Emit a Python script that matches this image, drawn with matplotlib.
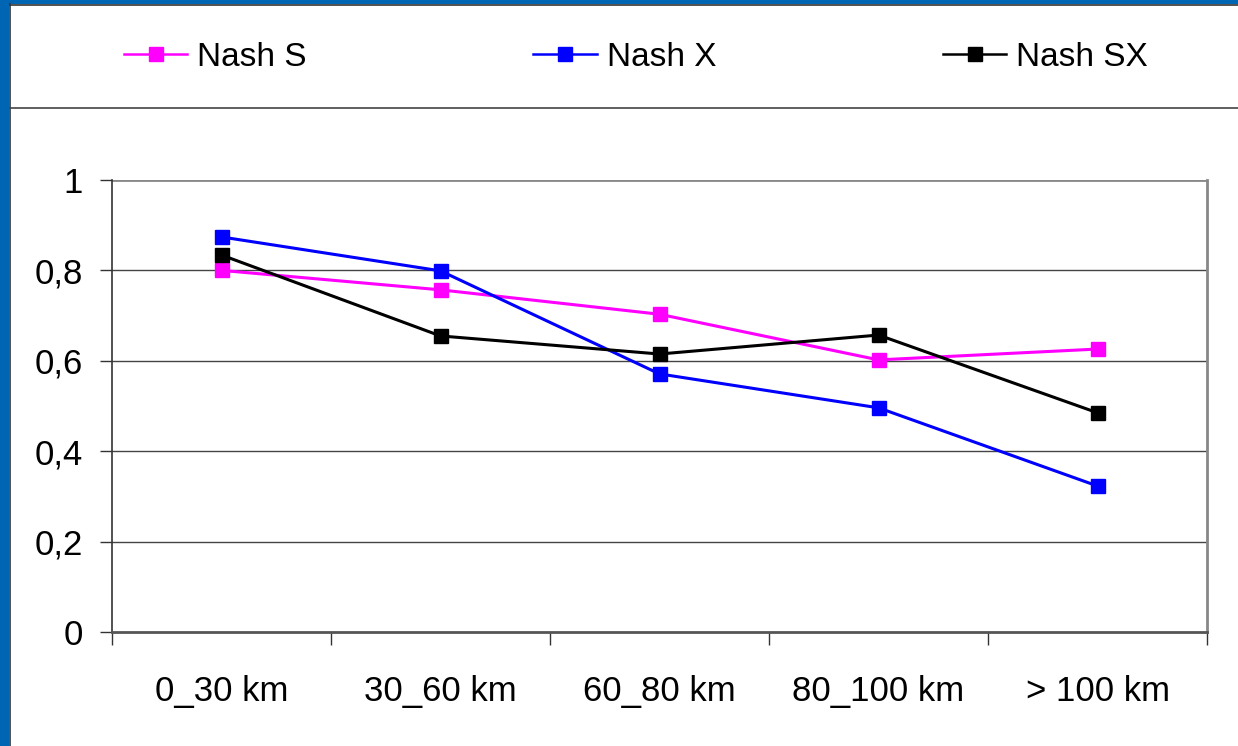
import matplotlib
matplotlib.use("Agg")
import matplotlib.pyplot as plt
from matplotlib.patches import Rectangle
from matplotlib.lines import Line2D
import numpy as np

categories = ["0_30 km", "30_60 km", "60_80 km", "80_100 km", "> 100 km"]
nash_s = [0.80, 0.757, 0.703, 0.602, 0.626]
nash_x = [0.874, 0.799, 0.571, 0.496, 0.323]
nash_sx = [0.834, 0.655, 0.615, 0.657, 0.485]
series_names = ["Nash S", "Nash X", "Nash SX"]
series_colors = ["#FF00FF", "#0000FF", "#000000"]
yticks = [0, 0.2, 0.4, 0.6, 0.8, 1.0]
ytick_labels = ["0", "0,2", "0,4", "0,6", "0,8", "1"]

plt.rcParams['font.family'] = ['Liberation Sans', 'DejaVu Sans']

W, H = 1238, 746
fig = plt.figure(figsize=(W / 100, H / 100), dpi=100)
fig.patch.set_facecolor("white")

# blue frame (left and top)
fig.patches.append(Rectangle((0, 0), 9 / W, 1, transform=fig.transFigure,
                             facecolor="#0066B3", edgecolor="none", zorder=0))
fig.patches.append(Rectangle((0, 1 - 4 / H), 1, 4 / H, transform=fig.transFigure,
                             facecolor="#0066B3", edgecolor="none", zorder=0))
fig.lines.append(Line2D([9.5 / W, 9.5 / W], [0, 1 - 4 / H], transform=fig.transFigure,
                        color="#333333", lw=1.2))
fig.lines.append(Line2D([9.5 / W, 1], [1 - 4.5 / H, 1 - 4.5 / H], transform=fig.transFigure,
                        color="#333333", lw=1.2))
# separator under legend
fig.lines.append(Line2D([9.5 / W, 1], [1 - 108 / H, 1 - 108 / H], transform=fig.transFigure,
                        color="#444444", lw=1.2))

ax = fig.add_axes([112 / W, 1 - 632 / H, (1207 - 112) / W, (632 - 180) / H])
x = np.arange(len(categories))
for vals, name, col in zip([nash_s, nash_x, nash_sx], series_names, series_colors):
    ax.plot(x, vals, color=col, lw=2.2, marker="s", markersize=10,
            markeredgecolor=col, label=name, zorder=3)

ax.set_xlim(-0.5, len(categories) - 0.5)
ax.set_ylim(0, 1)
ax.set_yticks(yticks)
ax.set_yticklabels(ytick_labels)
for yv in yticks[1:-1]:
    ax.axhline(yv, color="#444444", lw=1.0, zorder=1)
ax.axhline(1.0, color="#888888", lw=2.0, zorder=1)

ax.set_xticks(np.arange(len(categories) + 1) - 0.5)
ax.set_xticklabels([])
ax.set_xticks(x, minor=True)
ax.set_xticklabels(categories, minor=True)
ax.tick_params(axis="x", which="minor", length=0, pad=31, labelsize=25)
ax.tick_params(axis="x", which="major", length=9, width=1.0, color="#333333", direction="out")
ax.tick_params(axis="y", length=9, width=1.0, color="#333333", pad=12, labelsize=25)

ax.spines["top"].set_visible(False)
ax.spines["left"].set_color("#333333")
ax.spines["left"].set_linewidth(1.2)
ax.spines["bottom"].set_color("#555555")
ax.spines["bottom"].set_linewidth(2.0)
ax.spines["right"].set_color("#888888")
ax.spines["right"].set_linewidth(2.0)

leg_handles = [Line2D([], [], color=c, lw=1.8, marker="s", markersize=10, markeredgecolor=c)
               for c in series_colors]
fig.legend(leg_handles, series_names, loc="center", ncol=3,
           bbox_to_anchor=(636 / W, 1 - 57 / H), frameon=False, fontsize=24,
           handlelength=1.9, handletextpad=0.3, columnspacing=6.8)

fig.savefig("out.png", dpi=100)
